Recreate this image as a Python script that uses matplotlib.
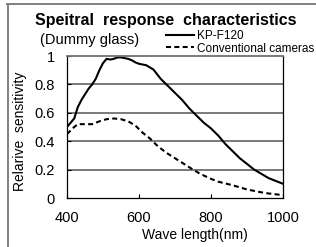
import matplotlib
matplotlib.use("Agg")
import matplotlib.pyplot as plt
from matplotlib.lines import Line2D

plt.rcParams['font.family'] = ['Liberation Sans', 'DejaVu Sans']

# KP-F120 (solid)
kp_wl = [400, 410, 420, 430, 440, 450, 460, 470, 480, 490, 500, 510, 520, 530,
         540, 550, 560, 570, 580, 590, 600, 620, 640, 660, 680, 700, 720, 740,
         760, 780, 800, 820, 840, 860, 880, 900, 920, 940, 960, 980, 1000]
kp_val = [0.50, 0.53, 0.56, 0.64, 0.69, 0.73, 0.77, 0.80, 0.84, 0.90, 0.95, 0.98,
          0.975, 0.98, 0.99, 0.99, 0.985, 0.98, 0.97, 0.955, 0.945, 0.935, 0.905,
          0.84, 0.79, 0.74, 0.69, 0.63, 0.58, 0.53, 0.49, 0.44, 0.38, 0.33, 0.28,
          0.24, 0.20, 0.17, 0.14, 0.12, 0.10]

# Conventional cameras (dashed)
conv_wl = [400, 420, 430, 450, 470, 490, 510, 530, 550, 570, 590, 610, 630, 650,
           675, 700, 725, 750, 770, 800, 820, 860, 900, 950, 1000]
conv_val = [0.45, 0.50, 0.52, 0.52, 0.52, 0.54, 0.555, 0.56, 0.555, 0.54, 0.51,
            0.46, 0.42, 0.37, 0.32, 0.28, 0.24, 0.20, 0.17, 0.135, 0.115, 0.09,
            0.06, 0.035, 0.02]

xticks = [400, 600, 800, 1000]
yticks = [0, 0.2, 0.4, 0.6, 0.8, 1]
ytick_labels = ['0', '0.2', '0.4', '0.6', '0.8', '1']

W, H = 316, 247
fig = plt.figure(figsize=(W / 100, H / 100), dpi=100)
ax = fig.add_axes([67 / W, 1 - 198 / H, 216 / W, 142 / H])

ax.plot(kp_wl, kp_val, color='black', lw=1.5, label='KP-F120')
ax.plot(conv_wl, conv_val, color='black', lw=1.5, linestyle=(0, (2.4, 1.6)),
        label='Conventional cameras')

ax.set_xlim(400, 1000)
ax.set_ylim(0, 1)
ax.set_xticks(xticks)
ax.set_yticks(yticks)
ax.set_yticklabels(ytick_labels)
ax.tick_params(axis='both', direction='in', length=3, width=0.8, labelsize=10.5)
ax.tick_params(axis='x', pad=9)
ax.tick_params(axis='y', pad=9)
for y in yticks[1:-1]:
    ax.axhline(y, color='#707070', lw=1.3, zorder=0)
for s in ['left', 'bottom', 'right']:
    ax.spines[s].set_linewidth(0.9)
ax.spines['top'].set_color('#707070')
ax.spines['top'].set_linewidth(1.3)

ax.legend(loc='upper left', bbox_to_anchor=(166 / W, 1 - 30 / H),
          bbox_transform=fig.transFigure, frameon=False, fontsize=8.5,
          handlelength=2.4, handletextpad=0.25, labelspacing=0.05,
          borderpad=0, borderaxespad=0)

fig.text(166 / W, 1 - 21 / H, 'Speitral  response  characteristics',
         ha='center', va='center', fontsize=11.5, fontweight='bold')
fig.text(40 / W, 1 - 40 / H, '(Dummy glass)', ha='left', va='center',
         fontsize=10.5)
fig.text(20 / W, 1 - 131 / H, 'Relarive  sensitivity', rotation=90,
         ha='center', va='center', fontsize=10)
fig.text(195 / W, 1 - 235 / H, 'Wave length(nm)', ha='center', va='center',
         fontsize=10)

# outer frame (left and top edges)
fig.add_artist(Line2D([8 / W, 8 / W], [0, 1 - 4.5 / H], transform=fig.transFigure,
                      color='#808080', lw=1.4))
fig.add_artist(Line2D([7.3 / W, 1], [1 - 4.5 / H, 1 - 4.5 / H],
                      transform=fig.transFigure, color='#808080', lw=1.4))

fig.savefig('out.png', dpi=100)
